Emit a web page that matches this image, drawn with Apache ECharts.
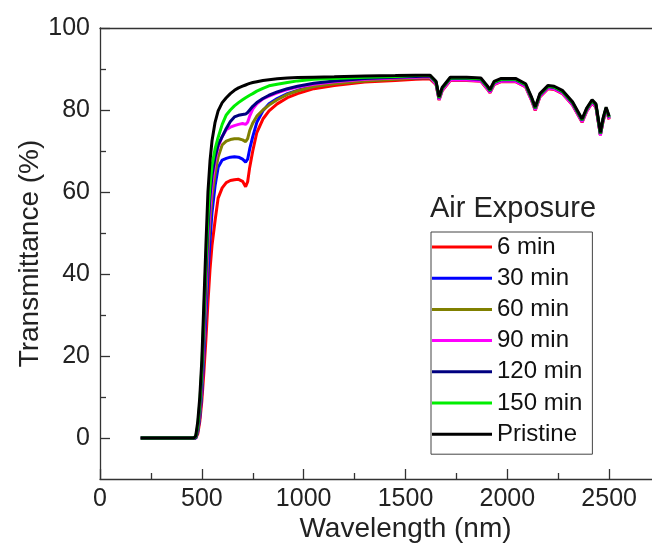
<!DOCTYPE html>
<html>
<head>
<meta charset="utf-8">
<script src="https://cdn.jsdelivr.net/npm/echarts@6/dist/echarts.min.js"></script>
<style>
html,body{margin:0;padding:0;background:#fff;}
#chart{width:652px;height:548px;}
</style>
</head>
<body>
<div id="chart"></div>
<script>
// Wavelength grid (nm)
const wavelengths = [200, 460, 470, 480, 490, 500, 510, 520, 530, 540, 550, 565, 580, 600, 620, 640, 660, 680, 700, 715, 725, 735, 750, 770, 800, 830, 870, 920, 970, 1050, 1150, 1300, 1450, 1550, 1620, 1650, 1665, 1680, 1720, 1800, 1870, 1900, 1915, 1935, 1970, 2040, 2090, 2120, 2137, 2160, 2200, 2230, 2270, 2320, 2367, 2390, 2416, 2435, 2457, 2470, 2485, 2500];

// Transmittance (%) per series
const t6 = [0, 0, 0, 1, 4, 9, 16, 24, 33, 41, 47, 53, 58.5, 61, 62.3, 62.8, 63, 63.1, 62.6, 61.3, 62.5, 66, 70, 74.5, 77.8, 79.8, 81.5, 83, 84, 85.2, 86, 86.8, 87.2, 87.5, 87.6,
  86.2, 82.4, 84.7, 87.2, 87.2, 87, 85.2, 84.2, 86.2, 86.9, 86.9, 85.6, 82.2, 79.9, 83.2, 85.2, 85, 84, 81.2, 77, 79.7, 81.7, 80.7, 73.9, 77.2, 79.9, 77.7];
const t30 = [0, 0, 0, 1.5, 5, 11, 20, 30, 40, 48, 55, 61.5, 66, 67.8, 68.2, 68.5, 68.6, 68.5, 68, 67.3, 68, 70.5, 73.5, 77, 79.8, 81.5, 82.8, 84, 84.8, 85.8, 86.5, 87.2, 87.6, 87.8, 87.9,
  86.5, 82.7, 85, 87.5, 87.5, 87.3, 85.5, 84.5, 86.5, 87.2, 87.2, 85.9, 82.5, 80.2, 83.5, 85.5, 85.3, 84.3, 81.5, 77.3, 80, 82, 81, 74, 77.5, 80.2, 78];
const t60 = [0, 0, 0, 2, 6, 13, 23, 34, 45, 53, 59, 64.5, 68.5, 71.5, 72.4, 72.8, 73, 73, 72.7, 72.3, 73, 75, 76.8, 78.5, 80, 81.2, 82.5, 83.8, 84.7, 85.7, 86.4, 87.1, 87.5, 87.8, 87.9,
  86.4, 82.6, 84.9, 87.4, 87.4, 87.2, 85.4, 84.4, 86.4, 87.1, 87.1, 85.8, 82.4, 80.1, 83.4, 85.4, 85.2, 84.2, 81.4, 77.2, 79.9, 81.9, 80.9, 73.9, 77.4, 80.1, 77.9];
const t90 = [0, 0, 0, 2.5, 7, 14, 25, 37, 48, 56, 62, 67.5, 71, 73.5, 75.2, 75.8, 76.2, 76.5, 76.7, 76.5, 77, 78.5, 80.2, 81.5, 82.7, 83.4, 84.2, 85, 85.6, 86.3, 86.9, 87.5, 87.8, 88, 88.1,
  86.3, 82.5, 84.8, 87.3, 87.3, 87.1, 85.3, 84.3, 86.3, 87, 87, 85.7, 82.3, 80, 83.3, 85.3, 85.1, 84.1, 81.3, 77.1, 79.8, 81.8, 80.8, 73.8, 77.3, 80, 77.8];
const t120 = [0, 0, 0, 2.5, 7.5, 15, 27, 40, 51, 59, 64, 68.5, 71.5, 73.5, 75.5, 77.2, 78.3, 78.7, 78.9, 79, 79.4, 80, 80.9, 81.8, 82.8, 83.6, 84.4, 85.2, 85.8, 86.5, 87.1, 87.7, 88, 88.2, 88.3,
  86.7, 82.9, 85.2, 87.7, 87.7, 87.5, 85.7, 84.7, 86.7, 87.4, 87.4, 86.1, 82.7, 80.4, 83.7, 85.7, 85.5, 84.5, 81.7, 77.5, 80.2, 82.2, 81.2, 74.2, 77.7, 80.4, 78.2];
const t150 = [0, 0, 0.3, 3, 8.5, 17, 30, 43, 54, 61.5, 66.5, 70.5, 73.3, 76.5, 78.8, 80, 81, 81.8, 82.5, 83, 83.3, 83.6, 84, 84.6, 85.3, 85.9, 86.3, 86.7, 87.1, 87.5, 87.7, 88, 88.2, 88.4, 88.4,
  86.8, 83, 85.3, 87.8, 87.8, 87.6, 85.8, 84.8, 86.8, 87.5, 87.5, 86.2, 82.8, 80.5, 83.8, 85.8, 85.6, 84.6, 81.8, 77.6, 80.3, 82.3, 81.3, 74.3, 77.8, 80.5, 78.3];
const tPristine = [0, 0, 0.5, 4, 10, 19, 33, 47, 60, 67.5, 72.5, 77, 79.8, 81.8, 83, 84, 84.8, 85.4, 85.8, 86.1, 86.3, 86.5, 86.7, 86.9, 87.2, 87.4, 87.6, 87.8, 87.9, 88, 88.1, 88.3, 88.4, 88.5, 88.5,
  87, 83.2, 85.5, 88, 88, 87.8, 86, 85, 87, 87.7, 87.7, 86.4, 83, 80.7, 84, 86, 85.8, 84.8, 82, 77.8, 80.5, 82.5, 81.5, 74.5, 78, 80.7, 78.5];

const seriesNames = ['6 min', '30 min', '60 min', '90 min', '120 min', '150 min', 'Pristine'];
const seriesValues = [t6, t30, t60, t90, t120, t150, tPristine];
const seriesColors = ['#FF0000', '#0000FF', '#808000', '#FF00FF', '#000080', '#00EE00', '#000000'];

const xMajorTicks = [0, 500, 1000, 1500, 2000, 2500];
const xMinorTicks = [250, 750, 1250, 1750, 2250];
const yMajorTicks = [0, 20, 40, 60, 80, 100];
const yMinorTicks = [10, 30, 50, 70, 90];

const FONT = '"Liberation Sans", Arial, sans-serif';
const AX = '#333';

const chart = echarts.init(document.getElementById('chart'), null, {renderer: 'canvas'});

const series = seriesNames.map((name, k) => ({
  name: name,
  type: 'line',
  xAxisIndex: 0,
  yAxisIndex: 0,
  showSymbol: false,
  symbol: 'none',
  smooth: false,
  data: wavelengths.map((w, i) => [w, seriesValues[k][i]]),
  lineStyle: {color: seriesColors[k], width: 3},
  itemStyle: {color: seriesColors[k]},
  emphasis: {disabled: true},
  z: 2 + k
}));

chart.setOption({
  animation: false,
  backgroundColor: '#fff',
  title: {
    text: 'Air Exposure',
    left: 425, top: 189,
    textStyle: {fontSize: 29, fontWeight: 'normal', color: '#222', fontFamily: FONT}
  },
  legend: {
    data: seriesNames,
    orient: 'vertical',
    left: 431, top: 232,
    padding: [3, 10, 8, 1],
    itemGap: 7.2,
    itemWidth: 60,
    itemHeight: 3,
    icon: 'rect',
    borderColor: '#444',
    borderWidth: 1,
    backgroundColor: '#fff',
    selectedMode: false,
    textStyle: {fontSize: 24, lineHeight: 24, color: '#111', fontFamily: FONT}
  },
  grid: {left: 100, top: 28, width: 611, height: 451, containLabel: false, outerBoundsMode: 'none'},
  xAxis: [
    {
      type: 'value', min: 0, max: 3000, position: 'bottom',
      name: 'Wavelength (nm)', nameLocation: 'middle', nameGap: 36, nameMoveOverlap: false,
      nameTextStyle: {fontSize: 28, color: '#222', fontFamily: FONT},
      axisLine: {show: true, onZero: false, lineStyle: {color: AX, width: 1.3}},
      axisTick: {show: true, inside: true, length: 10, customValues: xMajorTicks, lineStyle: {color: AX, width: 1.3}},
      axisLabel: {customValues: xMajorTicks, formatter: v => String(v), fontSize: 25, color: '#222', margin: 8, fontFamily: FONT},
      splitLine: {show: false}
    },
    {
      type: 'value', min: 0, max: 3000, position: 'bottom',
      axisLine: {show: false, onZero: false},
      axisTick: {show: true, inside: true, length: 6, customValues: xMinorTicks, lineStyle: {color: AX, width: 1.3}},
      axisLabel: {show: false},
      splitLine: {show: false}
    },
    {
      type: 'value', min: 0, max: 3000, position: 'top',
      axisLine: {show: true, onZero: false, lineStyle: {color: AX, width: 1.3}},
      axisTick: {show: false},
      axisLabel: {show: false},
      splitLine: {show: false}
    }
  ],
  yAxis: [
    {
      type: 'value', min: -10, max: 100, position: 'left',
      name: 'Transmittance (%)', nameLocation: 'middle', nameGap: 56, nameMoveOverlap: false,
      nameTextStyle: {fontSize: 28, color: '#222', fontFamily: FONT},
      axisLine: {show: true, onZero: false, lineStyle: {color: AX, width: 1.3}},
      axisTick: {show: true, inside: true, length: 10, customValues: yMajorTicks, lineStyle: {color: AX, width: 1.3}},
      axisLabel: {customValues: yMajorTicks, formatter: v => String(v), fontSize: 25, color: '#222', margin: 10, fontFamily: FONT},
      splitLine: {show: false}
    },
    {
      type: 'value', min: -10, max: 100, position: 'left', offset: 0,
      axisLine: {show: false, onZero: false},
      axisTick: {show: true, inside: true, length: 6, customValues: yMinorTicks, lineStyle: {color: AX, width: 1.3}},
      axisLabel: {show: false},
      splitLine: {show: false}
    }
  ],
  series: series
});
</script>
</body>
</html>
